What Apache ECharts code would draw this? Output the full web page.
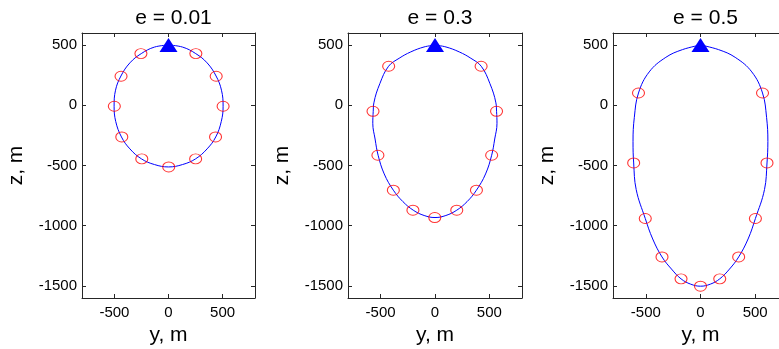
<!DOCTYPE html>
<html>
<head>
<meta charset="utf-8">
<script src="https://cdn.jsdelivr.net/npm/echarts@6/dist/echarts.min.js"></script>
<style>
  html, body { margin: 0; padding: 0; background: #fff; }
  #chart { width: 779px; height: 349px; }
</style>
</head>
<body>
<div id="chart"></div>
<script>
// Relative trajectories (y, z in metres) for three eccentricities.
const titles = ['e = 0.01', 'e = 0.3', 'e = 0.5'];
const xTicks = [-500, 0, 500];
const yTicks = [-1500, -1000, -500, 0, 500];

// Start point of every trajectory.
const startPoint = [0, 500];

// Sampled points along each closed trajectory (clockwise from the top).
const curve001 = [
  [0, 500], [130, 483], [252, 429], [357, 352], [440, 243], [490, 125], [505, -8],
  [488, -135], [437, -263], [357, -362], [250, -445], [130, -492], [0, -512],
  [-130, -492], [-250, -445], [-357, -362], [-435, -263], [-488, -135], [-503, -8],
  [-490, 125], [-440, 243], [-357, 352], [-252, 429], [-130, 483], [0, 500]
];
const curve03 = [
  [0, 500], [101, 484], [223, 443], [330, 390], [425, 324], [505, 180], [560, 20], [566, -50],
  [570, -150], [549, -280], [521, -415], [465, -570], [381, -705], [295, -800], [200, -871],
  [100, -915], [0, -932], [-100, -915], [-200, -871], [-295, -800], [-383, -705],
  [-467, -570], [-523, -415], [-551, -280], [-572, -150], [-568, -50], [-562, 20], [-507, 180],
  [-427, 324], [-330, 390], [-223, 443], [-101, 484], [0, 500]
];
const curve05 = [
  [0, 500], [165, 462], [317, 398], [469, 277], [567, 102], [604, -100], [616, -300],
  [608, -479], [585, -700], [502, -940], [435, -1110], [349, -1259], [265, -1360],
  [176, -1441], [90, -1485], [0, -1502], [-90, -1485], [-178, -1441], [-265, -1360],
  [-352, -1259], [-437, -1110], [-505, -940], [-588, -700], [-611, -479], [-617, -300],
  [-605, -100], [-567, 102], [-469, 277], [-317, 398], [-165, 462], [0, 500]
];

// Marked positions along each trajectory.
const marks001 = [
  [253, 429], [441, 241], [505, -8], [435, -263], [251, -445], [2, -512],
  [-247, -445], [-432, -263], [-501, -8], [-439, 241], [-255, 429]
];
const marks03 = [
  [424, 324], [566, -50], [521, -415], [381, -705], [200, -871], [-2, -932],
  [-203, -871], [-383, -705], [-525, -415], [-570, -50], [-426, 324]
];
const marks05 = [
  [567, 102], [608, -479], [502, -940], [349, -1259], [176, -1441], [0, -1502],
  [-178, -1441], [-352, -1259], [-505, -940], [-611, -479], [-567, 102]
];

const curves = [curve001, curve03, curve05];
const marks = [marks001, marks03, marks05];

const grids = [
  { left: 82, top: 33, width: 173, height: 265, outerBoundsMode: 'none', containLabel: false },
  { left: 348, top: 33, width: 174, height: 265, outerBoundsMode: 'none', containLabel: false },
  { left: 613, top: 33, width: 175, height: 265, outerBoundsMode: 'none', containLabel: false }
];

const FONT = 'Liberation Sans, Arial, Helvetica, sans-serif';
const frameColor = '#262626';
const plain = v => String(v);

const xAxes = [], yAxes = [], series = [], titleList = [];
grids.forEach((g, i) => {
  titleList.push({
    text: titles[i],
    left: g.left + g.width / 2,
    top: 3,
    textAlign: 'center',
    textStyle: { fontFamily: FONT, fontSize: 21, fontWeight: 'normal', color: '#000' }
  });
  const common = {
    gridIndex: i,
    type: 'value',
    splitLine: { show: false },
    axisLine: { show: true, onZero: false, lineStyle: { color: frameColor, width: 1 } },
    axisTick: { show: true, inside: true, length: 4, lineStyle: { color: frameColor } }
  };
  // bottom x axis with labels
  xAxes.push(Object.assign({}, common, {
    position: 'bottom', min: -800, max: 800,
    name: 'y, m', nameLocation: 'middle', nameGap: 27,
    nameTextStyle: { fontFamily: FONT, fontSize: 21, color: '#000' },
    axisTick: Object.assign({}, common.axisTick, { customValues: xTicks }),
    axisLabel: { customValues: xTicks, formatter: plain, fontFamily: FONT, fontSize: 15, color: '#000', margin: 7 }
  }));
  // top x axis: frame and ticks only
  xAxes.push(Object.assign({}, common, {
    position: 'top', min: -800, max: 800,
    axisTick: Object.assign({}, common.axisTick, { customValues: xTicks }),
    axisLabel: { show: false }
  }));
  // left y axis with labels
  yAxes.push(Object.assign({}, common, {
    position: 'left', min: -1600, max: 600,
    name: 'z, m', nameLocation: 'middle', nameGap: 55, nameRotate: 90,
    nameTextStyle: { fontFamily: FONT, fontSize: 21, color: '#000' },
    axisTick: Object.assign({}, common.axisTick, { customValues: yTicks }),
    axisLabel: { customValues: yTicks, formatter: plain, fontFamily: FONT, fontSize: 15, color: '#000', margin: 5 }
  }));
  // right y axis: frame and ticks only
  yAxes.push(Object.assign({}, common, {
    position: 'right', min: -1600, max: 600,
    axisTick: Object.assign({}, common.axisTick, { customValues: yTicks }),
    axisLabel: { show: false }
  }));

  series.push({
    type: 'line',
    xAxisIndex: 2 * i, yAxisIndex: 2 * i,
    data: curves[i],
    smooth: 0.4,
    showSymbol: false,
    symbol: 'none',
    lineStyle: { color: '#0000ff', width: 1 },
    silent: true,
    z: 2
  });
  series.push({
    type: 'scatter',
    xAxisIndex: 2 * i, yAxisIndex: 2 * i,
    data: marks[i],
    symbol: 'circle',
    symbolSize: [12, 10],
    itemStyle: { color: 'rgba(0,0,0,0)', borderColor: '#ff0000', borderWidth: 1 },
    silent: true,
    z: 3
  });
  series.push({
    type: 'scatter',
    xAxisIndex: 2 * i, yAxisIndex: 2 * i,
    data: [startPoint],
    symbol: 'triangle',
    symbolSize: [18, 14],
    itemStyle: { color: '#0000ff', opacity: 1 },
    silent: true,
    z: 4
  });
});

const chart = echarts.init(document.getElementById('chart'), null, { renderer: 'canvas' });
chart.setOption({
  animation: false,
  backgroundColor: '#ffffff',
  title: titleList,
  grid: grids,
  xAxis: xAxes,
  yAxis: yAxes,
  series: series
});
</script>
</body>
</html>
